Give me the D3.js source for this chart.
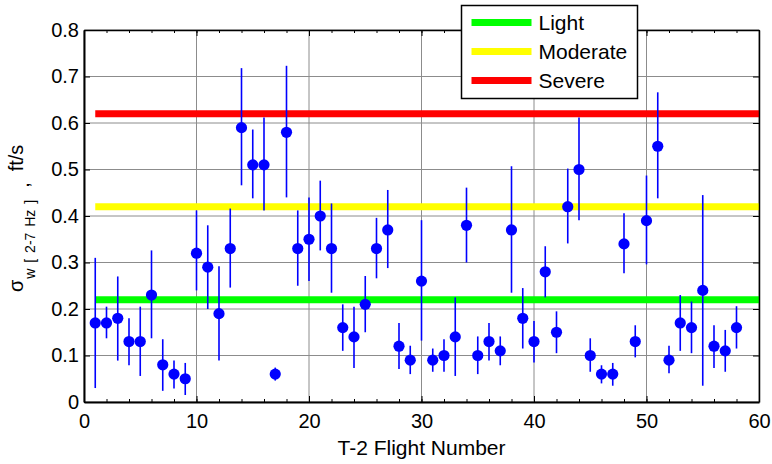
<!DOCTYPE html>
<head>
<title>sigma_w per T-2 flight</title>
<style>
  body { margin: 0; background: #fff; }
  text { font-family: "Liberation Sans", Arial, sans-serif; fill: #000; }
</style>
</head>
<body>
<script src="https://cdn.jsdelivr.net/npm/d3@7/dist/d3.min.js"></script>
<script>

// flight numbers and turbulence values
var flights = [1,2,3,4,5,6,7,8,9,10,11,12,13,14,15,16,17,18,19,20,
               21,22,23,24,25,26,27,28,29,30,31,32,33,34,35,36,37,38,39,40,
               41,42,43,44,45,46,47,48,49,50,51,52,53,54,55,56,57,58];
var sigma = [0.17,0.17,0.18,0.13,0.13,0.23,0.08,0.06,0.05,0.32,
             0.29,0.19,0.33,0.59,0.51,0.51,0.06,0.58,0.33,0.35,
             0.40,0.33,0.16,0.14,0.21,0.33,0.37,0.12,0.09,0.26,
             0.09,0.10,0.14,0.38,0.10,0.13,0.11,0.37,0.18,0.13,
             0.28,0.15,0.42,0.50,0.10,0.06,0.06,0.34,0.13,0.39,
             0.55,0.09,0.17,0.16,0.24,0.12,0.11,0.16];
var errLow = [0.03,0.137,0.089,0.079,0.056,0.137,0.024,0.029,0.015,0.24,
              0.20,0.089,0.246,0.466,0.438,0.412,0.046,0.44,0.25,0.26,
              0.326,0.235,0.11,0.073,0.15,0.266,0.288,0.071,0.06,0.132,
              0.065,0.065,0.056,0.30,0.06,0.089,0.079,0.235,0.115,0.085,
              0.225,0.105,0.341,0.391,0.065,0.04,0.035,0.277,0.096,0.296,
              0.438,0.062,0.11,0.105,0.035,0.073,0.065,0.115];
var errHigh = [0.31,0.205,0.27,0.18,0.205,0.326,0.135,0.089,0.084,0.412,
               0.38,0.292,0.416,0.718,0.586,0.612,0.074,0.723,0.412,0.44,
               0.476,0.427,0.21,0.205,0.271,0.396,0.456,0.17,0.121,0.391,
               0.115,0.135,0.225,0.461,0.141,0.17,0.141,0.507,0.245,0.174,
               0.335,0.195,0.502,0.612,0.137,0.079,0.084,0.406,0.165,0.487,
               0.666,0.121,0.23,0.216,0.445,0.165,0.155,0.206];

// turbulence thresholds
var levelNames = ["Light", "Moderate", "Severe"];
var levelValues = [0.22, 0.42, 0.62];
var levelColors = ["#00ff00", "#ffff00", "#ff0000"];
var levelSpan = [1, 60];

var xTicks = [0,10,20,30,40,50,60];
var xMinor = d3.range(0, 61, 2);
var yTicks = [0,0.1,0.2,0.3,0.4,0.5,0.6,0.7,0.8];

var W = 772, H = 464;
var margin = {top: 30, right: 13, bottom: 62, left: 84},
    width = W - margin.left - margin.right,
    height = H - margin.top - margin.bottom;

var x = d3.scaleLinear().domain([0, 60]).range([0, width]);
var y = d3.scaleLinear().domain([0, 0.8]).range([height, 0]);

var svg = d3.select("body").append("svg")
    .attr("width", W)
    .attr("height", H);
var g = svg.append("g")
    .attr("transform", "translate(" + margin.left + "," + margin.top + ")");

// grid
g.append("g").selectAll("line").data(xTicks).enter().append("line")
  .attr("x1", d => x(d)).attr("x2", d => x(d))
  .attr("y1", 0).attr("y2", height)
  .attr("stroke", "#8c8c8c").attr("stroke-width", 1);
g.append("g").selectAll("line").data(yTicks).enter().append("line")
  .attr("x1", 0).attr("x2", width)
  .attr("y1", d => y(d)).attr("y2", d => y(d))
  .attr("stroke", "#8c8c8c").attr("stroke-width", 1);

// threshold lines
g.append("g").selectAll("line").data(levelValues).enter().append("line")
  .attr("x1", x(levelSpan[0])).attr("x2", x(levelSpan[1]))
  .attr("y1", d => y(d)).attr("y2", d => y(d))
  .attr("stroke", (d, i) => levelColors[i])
  .attr("stroke-width", 7);

// error bars
g.append("g").selectAll("line").data(flights).enter().append("line")
  .attr("x1", d => x(d)).attr("x2", d => x(d))
  .attr("y1", (d, i) => y(errLow[i])).attr("y2", (d, i) => y(errHigh[i]))
  .attr("stroke", "#0000ff").attr("stroke-width", 1.6);

// points
g.append("g").selectAll("circle").data(flights).enter().append("circle")
  .attr("cx", d => x(d))
  .attr("cy", (d, i) => y(sigma[i]))
  .attr("r", 5.6)
  .attr("fill", "#0000ff");

// axes
function styleAxis(sel, sw) {
  sel.select(".domain").attr("stroke", "#000").attr("stroke-width", sw);
  sel.selectAll(".tick line").attr("stroke", "#000").attr("stroke-width", 1);
  sel.selectAll("text").style("font-size", "20px")
     .style("font-family", '"Liberation Sans", Arial, sans-serif');
}

var xAxis = g.append("g")
  .attr("transform", "translate(0," + height + ")")
  .call(d3.axisBottom(x).tickValues(xTicks).tickSizeInner(-6).tickSizeOuter(0).tickPadding(12));
styleAxis(xAxis, 2);
var xMinorAxis = g.append("g")
  .attr("transform", "translate(0," + height + ")")
  .call(d3.axisBottom(x).tickValues(xMinor).tickSizeInner(-3).tickSizeOuter(0).tickFormat(""));
xMinorAxis.select(".domain").remove();
xMinorAxis.selectAll(".tick line").attr("stroke", "#000");

var topAxis = g.append("g")
  .call(d3.axisTop(x).tickValues(xTicks).tickSizeInner(-6).tickSizeOuter(0).tickFormat(""));
styleAxis(topAxis, 1.5);
var topMinor = g.append("g")
  .call(d3.axisTop(x).tickValues(xMinor).tickSizeInner(-3).tickSizeOuter(0).tickFormat(""));
topMinor.select(".domain").remove();
topMinor.selectAll(".tick line").attr("stroke", "#000");

var yAxis = g.append("g")
  .call(d3.axisLeft(y).tickValues(yTicks).tickSizeInner(-6).tickSizeOuter(0).tickPadding(5)
        .tickFormat(d => d === 0 ? "0" : d3.format(".1f")(d)));
styleAxis(yAxis, 2);

var rightAxis = g.append("g")
  .attr("transform", "translate(" + width + ",0)")
  .call(d3.axisRight(y).tickValues(yTicks).tickSizeInner(-6).tickSizeOuter(0).tickFormat(""));
styleAxis(rightAxis, 1.5);

// axis titles
svg.append("text")
  .attr("x", margin.left + width / 2)
  .attr("y", 455)
  .attr("text-anchor", "middle")
  .style("font-size", "21px")
  .text("T-2 Flight Number");

var yl = svg.append("text")
  .attr("transform", "rotate(-90)")
  .style("font-size", "20px");
yl.append("tspan").attr("x", -292).attr("y", 23).text("σ");
yl.append("tspan").attr("y", 35).style("font-size", "14px").style("word-spacing", "2px")
  .attr("dx", 1).text("w [ 2-7 Hz ]");
yl.append("tspan").attr("y", 29).attr("dx", 12).text(",");
yl.append("tspan").attr("y", 23).attr("dx", 11).text("ft/s");

// legend
var legend = svg.append("g").attr("transform", "translate(461.5,5.5)");
legend.append("rect")
  .attr("width", 176).attr("height", 93)
  .attr("fill", "#fff").attr("stroke", "#000").attr("stroke-width", 1.5);
var rows = legend.selectAll(".row").data(levelNames).enter().append("g")
  .attr("class", "row")
  .attr("transform", (d, i) => "translate(0," + (17 + i * 29) + ")");
rows.append("line")
  .attr("x1", 10).attr("x2", 70)
  .attr("stroke", (d, i) => levelColors[i])
  .attr("stroke-width", 7);
rows.append("text")
  .attr("x", 77).attr("dy", "0.36em")
  .style("font-size", "21px")
  .text(d => d);

</script>
</body>
